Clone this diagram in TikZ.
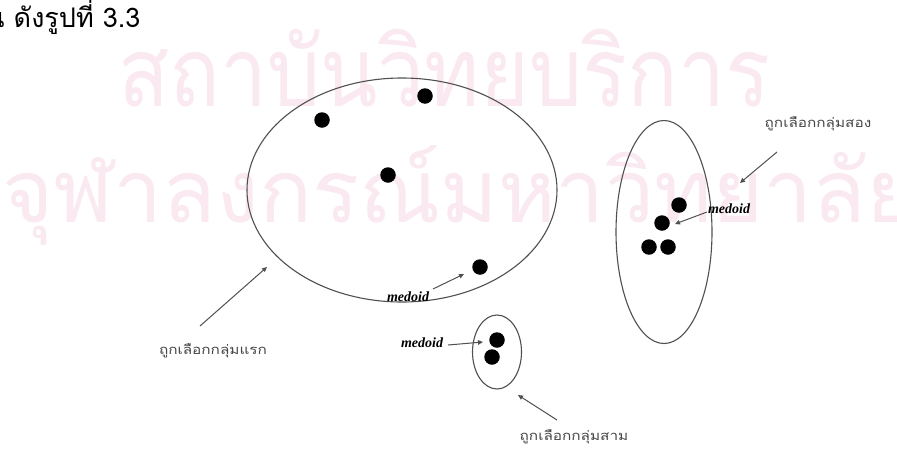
\documentclass[tikz,border=0pt]{standalone}
\usepackage{fontspec}
\setmainfont{Liberation Serif}
\newfontfamily\thai[Script=Thai]{Loma}
\usetikzlibrary{arrows.meta,shapes.geometric}
\definecolor{wm}{RGB}{250,233,240}
\definecolor{ln}{RGB}{80,80,80}
\definecolor{lbl}{RGB}{70,70,70}
\newcommand{\glabel}[1]{\scalebox{1.18}[1]{\thai\fontsize{13}{13}\selectfont #1}}
\begin{document}
\begin{tikzpicture}[x=1pt,y=-1pt,
  dot/.style={circle,fill=black,inner sep=0pt,minimum size=15.5pt},
  clus/.style={draw=ln,line width=1.1pt,ellipse,inner sep=0pt},
  arr/.style={draw=ln,line width=1pt,-{Triangle[length=5pt,width=4.5pt]}},
  med/.style={font=\fontsize{14}{14}\selectfont\bfseries\itshape,inner sep=0pt},
  lab/.style={text=lbl,inner sep=0pt},
  wmk/.style={inner sep=0pt,anchor=base west,text=wm}]
\useasboundingbox (0,0) rectangle (897,453);
\fill[white] (0,0) rectangle (897,453);
% watermark
\node[wmk] (w1) at (118,106) {\scalebox{1}[1.15]{\resizebox{652pt}{!}{\thai สถาบันวิทยบริการ}}};
\node[wmk] (w2) at (2,222) {\resizebox{915pt}{!}{\thai จุฬาลงกรณ์มหาวิทยาลัย}};
% header
\node[anchor=base west,inner sep=0pt,font=\thai\fontsize{27}{27}\selectfont] (hdr) at (-14,27) {น ดังรูปที่ 3.3};
% clusters
\node[clus,minimum width=310pt,minimum height=224pt] (c1) at (402,190) {};
\node[clus,minimum width=96pt,minimum height=223pt] (c2) at (664,232) {};
\node[clus,minimum width=49pt,minimum height=74pt] (c3) at (497,352) {};
% dots
\node[dot] (a1) at (322,120) {};
\node[dot] (a2) at (425,96) {};
\node[dot] (a3) at (388,175) {};
\node[dot] (a4) at (480,267) {};
\node[dot] (b1) at (679,205) {};
\node[dot] (b2) at (662,223) {};
\node[dot] (b3) at (649,247) {};
\node[dot] (b4) at (668,247) {};
\node[dot] (e1) at (497,340) {};
\node[dot] (e2) at (492,357) {};
% medoid labels
\node[med] (m1) at (408,297) {medoid};
\node[med] (m2) at (729,209) {medoid};
\node[med] (m3) at (422,343) {medoid};
\coordinate (m1t) at (433,289);
\coordinate (m1h) at (464,274);
\coordinate (m2t) at (707,212);
\coordinate (m2h) at (675,224);
\coordinate (m3t) at (448,345);
\coordinate (m3h) at (483,342);
\draw[arr] (m1t) -- (m1h);
\draw[arr] (m2t) -- (m2h);
\draw[arr] (m3t) -- (m3h);
% group labels
\node[lab] (g1) at (213,351) {\glabel{ถูกเลือกกลุ่มแรก}};
\node[lab] (g2) at (818,124) {\glabel{ถูกเลือกกลุ่มสอง}};
\node[lab] (g3) at (574,437) {\glabel{ถูกเลือกกลุ่มสาม}};
\coordinate (g1t) at (200,326);
\coordinate (g1h) at (267,267);
\coordinate (g2t) at (777,152);
\coordinate (g2h) at (740,183);
\coordinate (g3t) at (557,420);
\coordinate (g3h) at (518,395);
\draw[arr] (g1t) -- (g1h);
\draw[arr] (g2t) -- (g2h);
\draw[arr] (g3t) -- (g3h);
\end{tikzpicture}
\end{document}
